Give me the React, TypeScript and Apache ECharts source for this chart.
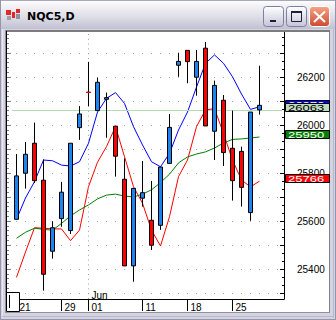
import React, { useEffect, useRef } from 'react';
import * as echarts from 'echarts';

const dates = ['05-21','05-22','05-26','05-27','05-28','05-29','05-30','05-31','06-01','06-02','06-04','06-05','06-08','06-09','06-11','06-12','06-15','06-16','06-17','06-18','06-19','06-22','06-23','06-24','06-25','06-26','06-29','06-30'];
const opens  = [25788,25878,25768,25378,25572,25720,25924,26046,26136,26178,26114,25870,25413,25736,25718,25499,25825,25990,26265,26264,26265,25996,26165,25885,25768,25740,26054,26082];
const closes = [25607,25799,25924,25770,25474,25610,25560,25989,26136,26060,26107,25995,25774,25413,25695,25603,25582,25840,26249,26311,26199,26320,25974,26103,25903,25890,25635,26063];
const lows   = [25607,25735,25758,25310,25443,25576,25546,25938,26079,26060,25947,25785,25413,25347,25660,25479,25563,25840,26201,26174,26122,25996,25854,25829,25685,25660,25601,26043];
const highs  = [25879,25929,26010,25857,25599,25763,25924,26079,26263,26197,26135,25995,25861,25736,25850,25767,25825,26046,26301,26311,26313,26346,26185,26125,26060,25910,26054,26247];
const blueLine  = [25607,25696,25764,25854,25851,25833,25829,25847,25924,26054,26111,26135,26090,25993,25917,25847,25826,25882,25979,26054,26158,26257,26292,26257,26201,26129,26065,26076];
const redLine   = [25365,25471,25572,25570,25567,25567,25518,25562,25743,25845,25910,25993,25868,25743,25674,25562,25496,25618,25785,25854,25993,26063,26068,25965,25854,25771,25742,25766];
const greenLine = [25528,25553,25570,25565,25562,25590,25621,25646,25667,25692,25708,25712,25704,25700,25712,25730,25760,25795,25842,25867,25879,25888,25904,25925,25940,25942,25946,25950];
const tickIdx = [0, 5, 8, 14, 19, 24];
const monthIdx = 8;
const monthLabel = 'Jun';
const dojiIdx = 8;
const title = 'NQC5,D';
const yMin = 25275;
const yMax = 26391.67;

export default function App() {
  const ref = useRef<HTMLDivElement>(null);
  useEffect(() => {
    document.body.style.margin = '0';
    const chart = echarts.init(ref.current!, null, { renderer: 'svg' });
    const cats = [...dates, 'pad1', 'pad2'];
    const candleData = dates.map((_, i) => [opens[i], closes[i], lows[i], highs[i]]);
    const dojiData = dates.map((_, i) => (i === dojiIdx ? [opens[i], closes[i], opens[i], opens[i]] : '-'));
    const font = 'Liberation Sans';
    chart.setOption({
      animation: false,
      backgroundColor: '#FFFFFF',
      grid: { left: 12, right: 54, top: 31, bottom: 21 },
      xAxis: {
        type: 'category',
        data: cats,
        boundaryGap: true,
        axisLine: { show: false },
        axisTick: {
          show: true, alignWithLabel: true, length: 12,
          interval: (i: number) => tickIdx.includes(i),
          lineStyle: { color: '#000000' },
        },
        axisLabel: {
          interval: (i: number) => tickIdx.includes(i),
          formatter: (v: string) => v.slice(3),
          align: 'left', verticalAlign: 'top', padding: [0, 0, 0, 3], margin: 3,
          fontSize: 10, fontFamily: font, color: '#000000',
        },
        splitLine: { show: false },
      },
      yAxis: [
        {
          type: 'value', position: 'right', offset: 2,
          min: yMin, max: yMax, minInterval: 100, maxInterval: 100, splitNumber: 11,
          axisLine: { show: true, lineStyle: { color: '#000000' } },
          axisTick: { show: true, inside: true, length: 4, lineStyle: { color: '#000000' } },
          minorTick: { show: true, splitNumber: 3, length: 2, lineStyle: { color: '#000000' } },
          axisLabel: {
            formatter: (v: number) => (Math.abs(v % 200) < 1e-6 ? String(v) : ''),
            margin: 13, fontSize: 10, fontFamily: font, color: '#000000',
          },
          splitLine: {
            show: true, showMinLine: false, showMaxLine: false,
            lineStyle: { color: '#A8A8A8', width: 1, type: [1, 8], dashOffset: 5 },
          },
        },
        {
          type: 'value', position: 'left', offset: 5,
          min: yMin, max: yMax, minInterval: 100, maxInterval: 100, splitNumber: 11,
          axisLine: { show: false },
          axisTick: { show: true, inside: true, length: 4, lineStyle: { color: '#808080' } },
          minorTick: { show: true, splitNumber: 5, length: 2, lineStyle: { color: '#808080' } },
          axisLabel: { show: false },
          splitLine: { show: false },
        },
      ],
      series: [
        {
          type: 'line', data: blueLine, symbol: 'none', z: 2,
          lineStyle: { color: '#0000FF', width: 1 },
        },
        {
          type: 'line', data: redLine, symbol: 'none', z: 2,
          lineStyle: { color: '#FF0000', width: 1 },
        },
        {
          type: 'line', data: greenLine, symbol: 'none', z: 2,
          lineStyle: { color: '#008000', width: 1 },
          markLine: {
            silent: true, symbol: 'none', label: { show: false },
            data: [
              { xAxis: dates[monthIdx], lineStyle: { color: '#A0A0A0', type: [1, 3.8], width: 1 } },
              { yAxis: closes[closes.length - 1], lineStyle: { color: '#B4DCB4', type: 'solid', width: 1 } },
            ],
          },
        },
        {
          type: 'candlestick', data: candleData, barWidth: 5, z: 5,
          itemStyle: {
            color: '#FF0000', color0: '#1E82F0',
            borderColor: '#000000', borderColor0: '#000000', borderWidth: 1,
          },
        },
        {
          type: 'candlestick', data: dojiData, barWidth: 5, z: 6,
          itemStyle: {
            color: '#FF0000', color0: '#FF0000',
            borderColor: '#FF0000', borderColor0: '#FF0000', borderWidth: 1,
          },
        },
      ],
    });

    const py = (v: number) => chart.convertToPixel({ yAxisIndex: 0 }, v) as number;
    const px = (c: string) => chart.convertToPixel({ xAxisIndex: 0 }, c) as number;

    const frame = '#D4D4E0';
    const edge = '#9494AC';
    const g: any[] = [];
    // title bar
    g.push({ type: 'rect', z: 100, shape: { x: 0, y: 0, width: 336, height: 29 },
      style: { fill: { type: 'linear', x: 0, y: 0, x2: 0, y2: 1, colorStops: [
        { offset: 0, color: '#FFFFFF' }, { offset: 0.2, color: '#F2F2F6' },
        { offset: 0.65, color: '#DADAE4' }, { offset: 1, color: '#C0C0D2' }] } } });
    g.push({ type: 'line', z: 101, shape: { x1: 0, y1: 0.5, x2: 336, y2: 0.5 }, style: { stroke: '#A8A8BC', lineWidth: 1 } });
    g.push({ type: 'rect', z: 100, shape: { x: 0, y: 29, width: 336, height: 1 }, style: { fill: frame } });
    // side frames
    g.push({ type: 'rect', z: 100, shape: { x: 0, y: 29, width: 6, height: 291 }, style: { fill: frame } });
    g.push({ type: 'rect', z: 100, shape: { x: 330, y: 29, width: 6, height: 291 }, style: { fill: frame } });
    g.push({ type: 'rect', z: 100, shape: { x: 0, y: 313, width: 336, height: 7 }, style: { fill: frame } });
    g.push({ type: 'line', z: 101, shape: { x1: 0.5, y1: 0, x2: 0.5, y2: 320 }, style: { stroke: edge, lineWidth: 1 } });
    g.push({ type: 'line', z: 101, shape: { x1: 335.5, y1: 0, x2: 335.5, y2: 320 }, style: { stroke: edge, lineWidth: 1 } });
    g.push({ type: 'line', z: 101, shape: { x1: 0, y1: 319.5, x2: 336, y2: 319.5 }, style: { stroke: edge, lineWidth: 1 } });
    g.push({ type: 'line', z: 101, shape: { x1: 2.5, y1: 29, x2: 2.5, y2: 318 }, style: { stroke: '#E8E8F0', lineWidth: 1 } });
    g.push({ type: 'line', z: 101, shape: { x1: 333.5, y1: 29, x2: 333.5, y2: 318 }, style: { stroke: '#B8B8CC', lineWidth: 1 } });
    g.push({ type: 'line', z: 101, shape: { x1: 2, y1: 316.5, x2: 334, y2: 316.5 }, style: { stroke: '#B8B8CC', lineWidth: 1 } });
    g.push({ type: 'line', z: 101, shape: { x1: 329.5, y1: 30, x2: 329.5, y2: 313 }, style: { stroke: '#808090', lineWidth: 1 } });
    g.push({ type: 'line', z: 101, shape: { x1: 5, y1: 312.5, x2: 330, y2: 312.5 }, style: { stroke: '#9090A0', lineWidth: 1 } });
    g.push({ type: 'line', z: 101, shape: { x1: 5.5, y1: 30, x2: 5.5, y2: 313 }, style: { stroke: '#9090A0', lineWidth: 1 } });
    // plot frame
    g.push({ type: 'rect', z: 101, shape: { x: 6, y: 30, width: 324, height: 2 }, style: { fill: '#7C7C7C' } });
    g.push({ type: 'line', z: 101, shape: { x1: 6.5, y1: 31, x2: 6.5, y2: 300 }, style: { stroke: '#000000', lineWidth: 1 } });
    g.push({ type: 'line', z: 101, shape: { x1: 6, y1: 299.5, x2: 284.5, y2: 299.5 }, style: { stroke: '#000000', lineWidth: 1 } });
    // scroll box
    g.push({ type: 'rect', z: 102, shape: { x: 6.5, y: 292.5, width: 13, height: 19 }, style: { fill: '#FFFFFF', stroke: '#000000', lineWidth: 1 } });
    g.push({ type: 'line', z: 103, shape: { x1: 9.5, y1: 295, x2: 9.5, y2: 308 }, style: { stroke: '#000000', lineWidth: 1 } });
    // icon
    const icon: [number, number, number, number, string][] = [
      [6, 10, 5, 5, '#E02828'], [7, 16, 4, 4, '#A0A0A8'], [12, 12, 3, 6, '#E02828'],
      [16, 9, 4, 4, '#E02828'], [16, 14, 4, 5, '#9090A0'],
    ];
    icon.forEach(([x, y, w, h, c]) => g.push({ type: 'rect', z: 102, shape: { x, y, width: w, height: h }, style: { fill: c } }));
    g.push({ type: 'text', z: 102, x: 27, y: 16, style: { text: title, fill: '#000000', font: 'bold 11px "DejaVu Sans"', textAlign: 'left', textVerticalAlign: 'middle' } });
    // buttons
    const btnFill = { type: 'linear', x: 0, y: 0, x2: 0, y2: 1, colorStops: [
      { offset: 0, color: '#FFFFFF' }, { offset: 1, color: '#C4C4D8' }] };
    g.push({ type: 'rect', z: 102, shape: { x: 263.5, y: 6.5, width: 20, height: 20, r: 3 }, style: { fill: btnFill, stroke: '#7E7EA2', lineWidth: 1 } });
    g.push({ type: 'rect', z: 102, shape: { x: 286.5, y: 6.5, width: 20, height: 20, r: 3 }, style: { fill: btnFill, stroke: '#7E7EA2', lineWidth: 1 } });
    g.push({ type: 'rect', z: 102, shape: { x: 309.5, y: 6.5, width: 20, height: 20, r: 3 }, style: { fill: { type: 'linear', x: 0, y: 0, x2: 0, y2: 1, colorStops: [
      { offset: 0, color: '#F4A488' }, { offset: 1, color: '#CC4A30' }] }, stroke: '#FFFFFF', lineWidth: 1 } });
    g.push({ type: 'rect', z: 103, shape: { x: 270, y: 20, width: 6, height: 2 }, style: { fill: '#1E1E3C' } });
    g.push({ type: 'rect', z: 103, shape: { x: 291.5, y: 11.5, width: 10, height: 10 }, style: { fill: 'none', stroke: '#1E1E3C', lineWidth: 1 } });
    g.push({ type: 'rect', z: 103, shape: { x: 291, y: 11, width: 11, height: 2 }, style: { fill: '#1E1E3C' } });
    g.push({ type: 'line', z: 103, shape: { x1: 314, y1: 11.5, x2: 325, y2: 22 }, style: { stroke: '#FFFFFF', lineWidth: 2 } });
    g.push({ type: 'line', z: 103, shape: { x1: 325, y1: 11.5, x2: 314, y2: 22 }, style: { stroke: '#FFFFFF', lineWidth: 2 } });
    // month label
    g.push({ type: 'text', z: 104, x: px(dates[monthIdx]) + 3, y: 295, style: { text: monthLabel, fill: '#000000', font: `10px "${font}"`, textAlign: 'left', textVerticalAlign: 'middle' } });
    // price tags
    const tags = [
      { v: blueLine[blueLine.length - 1], bg: '#0000FF', fg: '#FFFFFF' },
      { v: closes[closes.length - 1], bg: '#C0DCC0', fg: '#000000' },
      { v: greenLine[greenLine.length - 1], bg: '#008000', fg: '#FFFFFF' },
      { v: redLine[redLine.length - 1], bg: '#FF0000', fg: '#FFFFFF' },
    ];
    tags.forEach((t, k) => {
      const y = Math.round(py(t.v));
      g.push({ type: 'rect', z: 110 + k * 2, shape: { x: 285.5, y: y - 6.5, width: 44, height: 8 }, style: { fill: t.bg, stroke: '#000000', lineWidth: 1 } });
      g.push({ type: 'text', z: 111 + k * 2, x: 288, y: y - 2.5, scaleX: 1.45, style: { text: String(t.v), fill: t.fg, font: `9px "${font}"`, textAlign: 'left', textVerticalAlign: 'middle' } });
    });
    chart.setOption({ graphic: g });
    return () => chart.dispose();
  }, []);
  return <div ref={ref} style={{ width: 336, height: 320 }} />;
}
